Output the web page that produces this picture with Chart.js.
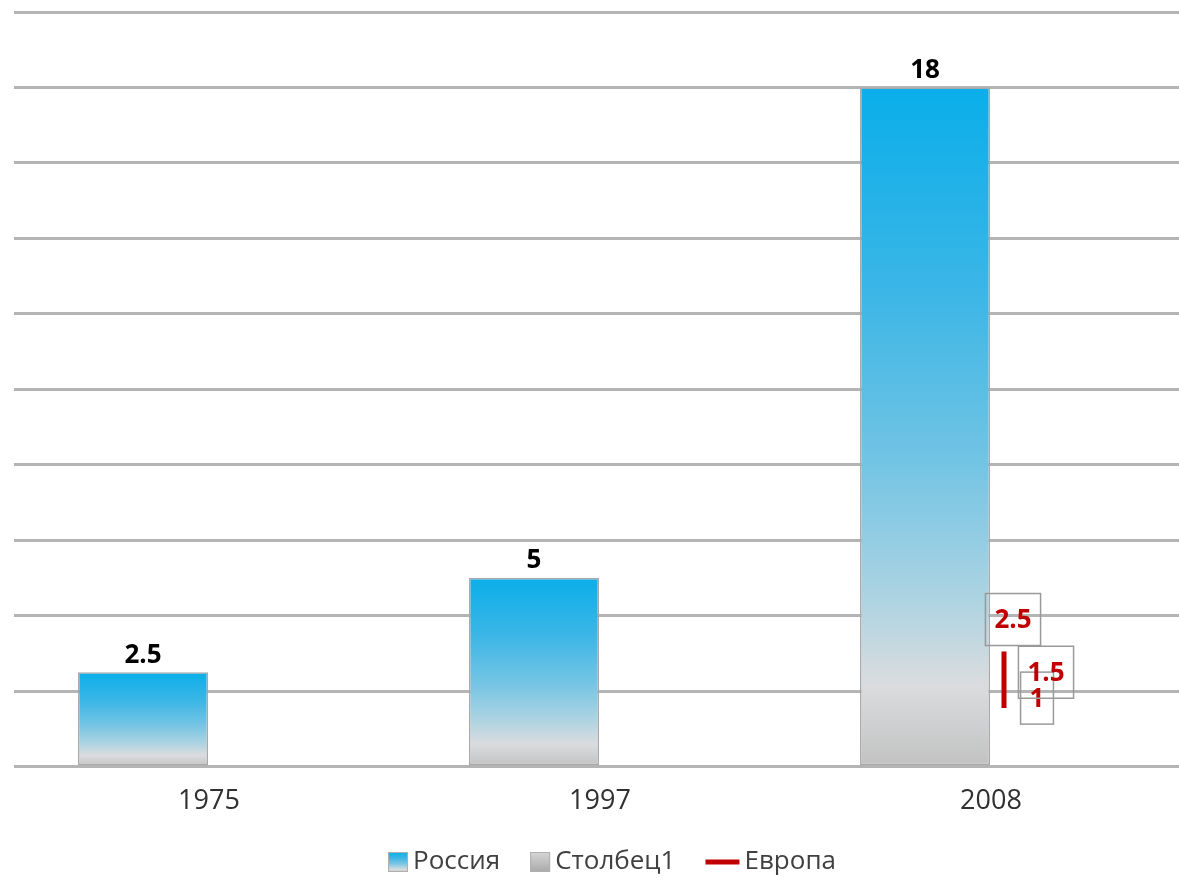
<!DOCTYPE html>
<html>
<head>
<meta charset="utf-8">
<script src="https://cdn.jsdelivr.net/npm/chart.js@4.4.1/dist/chart.umd.min.js"></script>
<style>
  html, body { margin: 0; padding: 0; overflow: hidden; background: #ffffff; }
  #wrap { width: 1224px; height: 882px; }
</style>
</head>
<body>
<div id="wrap"><canvas id="chart" width="1224" height="882"></canvas></div>
<script>
// Categories and series
const years = ['1975', '1997', '2008'];
const russia = [2.5, 5, 18];
const column1 = [null, null, null];
const europeYears = ['2008', '2008', '2008'];
const europe = [1, 1.5, 2.5];
// Value axis
const yMin = 0;
const yMax = 20;
const yStep = 2;

const FONT = '"Open Sans", "DejaVu Sans", sans-serif';
const RED = '#c00000';

// Vertical fill for the "Россия" bars: blue on top fading into grey at the base
function blueFill(c, top, bottom) {
  const g = c.createLinearGradient(0, top, 0, bottom);
  g.addColorStop(0, '#0aaeea');
  g.addColorStop(0.3, '#3bb6e6');
  g.addColorStop(0.55, '#72c4e4');
  g.addColorStop(0.75, '#acd3e2');
  g.addColorStop(0.88, '#dadcde');
  g.addColorStop(1, '#c2c2c2');
  return g;
}
function greyFill(c, top, bottom) {
  const g = c.createLinearGradient(0, top, 0, bottom);
  g.addColorStop(0, '#d6d6d6');
  g.addColorStop(1, '#a9a9a9');
  return g;
}

function barBackground(ctx) {
  const chart = ctx.chart;
  if (!chart.chartArea || ctx.type !== 'data' || ctx.raw == null) return '#0aaeea';
  const y = chart.scales.y;
  return blueFill(chart.ctx, y.getPixelForValue(ctx.raw), y.getPixelForValue(0));
}

// Europe line sits in the slot beside the 2008 bar
const europeShift = 13;
const europeLabelOffsets = [[46, -10], [55, -17], [22, -32]];

const shiftPlugin = {
  id: 'europeShift',
  beforeDatasetDraw(chart, args) {
    if (chart.data.datasets[args.index].id === 'europe') {
      chart.ctx.save();
      chart.ctx.translate(europeShift, 0);
    }
  },
  afterDatasetDraw(chart, args) {
    if (chart.data.datasets[args.index].id === 'europe') chart.ctx.restore();
  }
};

const labelPlugin = {
  id: 'valueLabels',
  afterDatasetsDraw(chart) {
    const c = chart.ctx;
    c.save();
    c.textAlign = 'center';
    c.textBaseline = 'middle';
    c.font = 'bold 26px ' + FONT;
    chart.data.datasets.forEach((ds, di) => {
      const meta = chart.getDatasetMeta(di);
      if (ds.id === 'russia') {
        meta.data.forEach((el, i) => {
          if (ds.data[i] == null) return;
          c.fillStyle = '#000000';
          c.fillText(String(ds.data[i]), el.x, el.y - 17);
        });
      }
      if (ds.id === 'europe') {
        meta.data.forEach((el, i) => {
          const [dx, dy] = europeLabelOffsets[i];
          const txt = String(europe[i]);
          const cx = el.x + dx, cy = el.y + dy;
          const w = c.measureText(txt).width + 18;
          const h = 52;
          c.strokeStyle = '#9a9a9a';
          c.lineWidth = 1.5;
          c.strokeRect(cx - w / 2, cy - h / 2, w, h);
          c.fillStyle = RED;
          c.fillText(txt, cx, cy + 1);
        });
      }
    });
    c.restore();
  }
};

// Legend drawn under the axis labels
const legendPlugin = {
  id: 'bottomLegend',
  afterDraw(chart) {
    const c = chart.ctx;
    const items = [
      { text: 'Россия', kind: 'blue' },
      { text: 'Столбец1', kind: 'grey' },
      { text: 'Европа', kind: 'line' }
    ];
    c.save();
    c.font = '26px ' + FONT;
    c.textBaseline = 'middle';
    c.textAlign = 'left';
    const box = 20, lineLen = 34, gap = 5, spacing = 30;
    const widths = items.map(it => (it.kind === 'line' ? lineLen : box) + gap + c.measureText(it.text).width);
    const total = widths.reduce((a, b) => a + b, 0) + spacing * (items.length - 1);
    let x = chart.width / 2 - total / 2;
    const cy = 862;
    items.forEach((it) => {
      if (it.kind === 'line') {
        c.fillStyle = RED;
        c.fillRect(x, cy - 2.5, lineLen, 5);
        x += lineLen + gap;
      } else {
        c.fillStyle = it.kind === 'blue' ? blueFill(c, cy - box / 2, cy + box / 2) : greyFill(c, cy - box / 2, cy + box / 2);
        c.fillRect(x, cy - box / 2, box, box);
        c.strokeStyle = '#b0b0b0';
        c.lineWidth = 1;
        c.strokeRect(x + 0.5, cy - box / 2 + 0.5, box - 1, box - 1);
        x += box + gap;
      }
      c.fillStyle = '#404040';
      c.fillText(it.text, x, cy);
      x += c.measureText(it.text).width + spacing;
    });
    c.restore();
  }
};

new Chart(document.getElementById('chart'), {
  data: {
    labels: years,
    datasets: [
      {
        id: 'russia',
        type: 'bar',
        label: 'Россия',
        data: russia,
        backgroundColor: barBackground,
        borderColor: '#a8a8a8',
        borderWidth: 1.5,
        borderSkipped: false,
        barPercentage: 0.985,
        categoryPercentage: 0.675,
        order: 2
      },
      {
        id: 'column1',
        type: 'bar',
        label: 'Столбец1',
        data: column1,
        backgroundColor: '#c0c0c0',
        borderColor: '#a8a8a8',
        borderWidth: 1.5,
        barPercentage: 0.985,
        categoryPercentage: 0.675,
        order: 2
      },
      {
        id: 'europe',
        type: 'line',
        label: 'Европа',
        data: europe.map((v, i) => ({ x: europeYears[i], y: v })),
        yAxisID: 'y2',
        borderColor: RED,
        borderWidth: 5,
        pointRadius: 0,
        fill: false,
        order: 1
      }
    ]
  },
  options: {
    responsive: false,
    animation: false,
    devicePixelRatio: 1,
    layout: { padding: { left: 13.5, right: 37.5, top: 12, bottom: 45 } },
    plugins: {
      legend: { display: false },
      tooltip: { enabled: false }
    },
    scales: {
      x: {
        type: 'category',
        offset: true,
        grid: { display: false, drawTicks: false },
        border: { display: false },
        ticks: {
          color: '#303030',
          font: { family: FONT, size: 27 },
          padding: 19
        }
      },
      y: {
        min: yMin,
        max: yMax,
        ticks: { display: false, stepSize: yStep },
        grid: { color: '#b4b4b4', lineWidth: 3, drawTicks: false },
        border: { display: false }
      },
      y2: {
        display: false,
        min: yMin - 0.55,
        max: yMax - 0.55
      }
    }
  },
  plugins: [shiftPlugin, labelPlugin, legendPlugin]
});
</script>
</body>
</html>
